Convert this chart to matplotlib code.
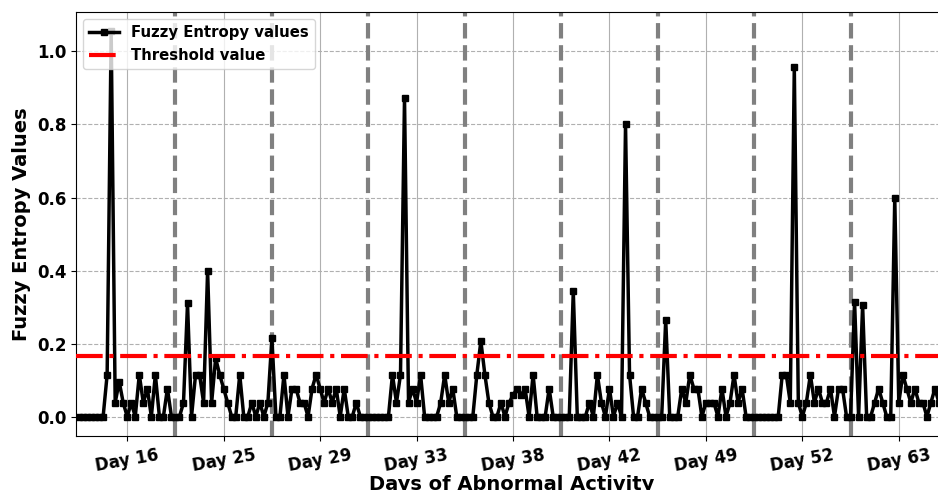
import numpy as np
import matplotlib
matplotlib.use('Agg')
import matplotlib.pyplot as plt

# fuzzy entropy values, 24 samples per day
day_labels = ['Day 16', 'Day 25', 'Day 29', 'Day 33', 'Day 38', 'Day 42', 'Day 49', 'Day 52', 'Day 63']
pts_per_day = 24
threshold = 0.167

day16 = [0, 0, 0, 0, 0, 0, 0, 0.115, 1.055, 0.038, 0.096, 0.038,
         0.0, 0.038, 0.0, 0.115, 0.038, 0.077, 0.0, 0.115, 0.0, 0.0, 0.077, 0.0]
day25 = [0, 0, 0.038, 0.31, 0, 0.115, 0.115, 0.038, 0.40, 0.038, 0.16, 0.115,
         0.077, 0.038, 0, 0, 0.115, 0, 0, 0.038, 0, 0.038, 0, 0.038]
day29 = [0.215, 0.0, 0.0, 0.115, 0.0, 0.077, 0.077, 0.038, 0.038, 0.0, 0.077, 0.115,
         0.077, 0.038, 0.077, 0.038, 0.077, 0.0, 0.077, 0.0, 0.0, 0.038, 0.0, 0.0]
day33 = [0, 0, 0, 0, 0, 0, 0.115, 0.038, 0.115, 0.873, 0.038, 0.077,
         0.038, 0.115, 0, 0, 0, 0, 0.038, 0.115, 0.038, 0.077, 0, 0]
day38 = [0, 0, 0, 0.115, 0.207, 0.115, 0.038, 0.0, 0.0, 0.038, 0.0, 0.038,
         0.058, 0.077, 0.058, 0.077, 0.0, 0.115, 0, 0, 0, 0.077, 0, 0]
day42 = [0, 0, 0, 0.343, 0, 0, 0.0, 0.038, 0.0, 0.115, 0.038, 0,
         0.077, 0, 0.038, 0.0, 0.80, 0.115, 0, 0, 0.077, 0.038, 0, 0]
day49 = [0, 0.0, 0.265, 0, 0, 0, 0.077, 0.038, 0.115, 0.077, 0.077, 0,
         0.038, 0.038, 0.038, 0, 0.077, 0, 0.038, 0.115, 0.038, 0.077, 0, 0]
day52 = [0, 0, 0, 0, 0, 0, 0, 0.115, 0.115, 0.038, 0.957, 0.038,
         0, 0.038, 0.115, 0.038, 0.077, 0.038, 0.038, 0.077, 0.0, 0.077, 0.077, 0]
day63 = [0, 0.315, 0, 0.305, 0, 0, 0.038, 0.077, 0.038, 0, 0, 0.598,
         0.038, 0.115, 0.077, 0.038, 0.077, 0.038, 0.038, 0, 0.038, 0.077, 0.038, 0]

values = np.array(day16 + day25 + day29 + day33 + day38 + day42 + day49 + day52 + day63)
x = np.arange(len(values))

fig = plt.figure(figsize=(9.38, 4.9), dpi=100)
ax = fig.add_axes([76 / 938, 54 / 490, 871 / 938, 424 / 490])

ax.plot(x, values, color='black', lw=2.5, marker='s', markersize=5, label='Fuzzy Entropy values', zorder=3)
ax.axhline(threshold, color='red', lw=3, linestyle='-.', label='Threshold value', zorder=4)

# day boundaries
for k in range(1, len(day_labels)):
    ax.axvline(k * pts_per_day, color='gray', lw=3, linestyle='--', zorder=2)

ax.set_xlim(-0.75, 216)
ax.set_ylim(-0.053, 1.108)
ax.set_xticks(np.arange(len(day_labels)) * pts_per_day + pts_per_day / 2)
ax.set_xticklabels(day_labels, rotation=10, fontsize=12, fontweight='bold')
ax.set_yticks([0.0, 0.2, 0.4, 0.6, 0.8, 1.0])
ax.set_yticklabels(['0.0', '0.2', '0.4', '0.6', '0.8', '1.0'], fontsize=12, fontweight='bold')

ax.grid(axis='x', color='#b0b0b0', lw=0.8)
ax.grid(axis='y', color='#b0b0b0', lw=0.8, linestyle='--')
ax.set_axisbelow(True)

ax.set_xlabel('Days of Abnormal Activity', fontsize=14, fontweight='bold', labelpad=0)
ax.set_ylabel('Fuzzy Entropy Values', fontsize=14, fontweight='bold')
ax.legend(loc='upper left', prop={'weight': 'bold', 'size': 10.7})

fig.savefig('out.png', dpi=100)
